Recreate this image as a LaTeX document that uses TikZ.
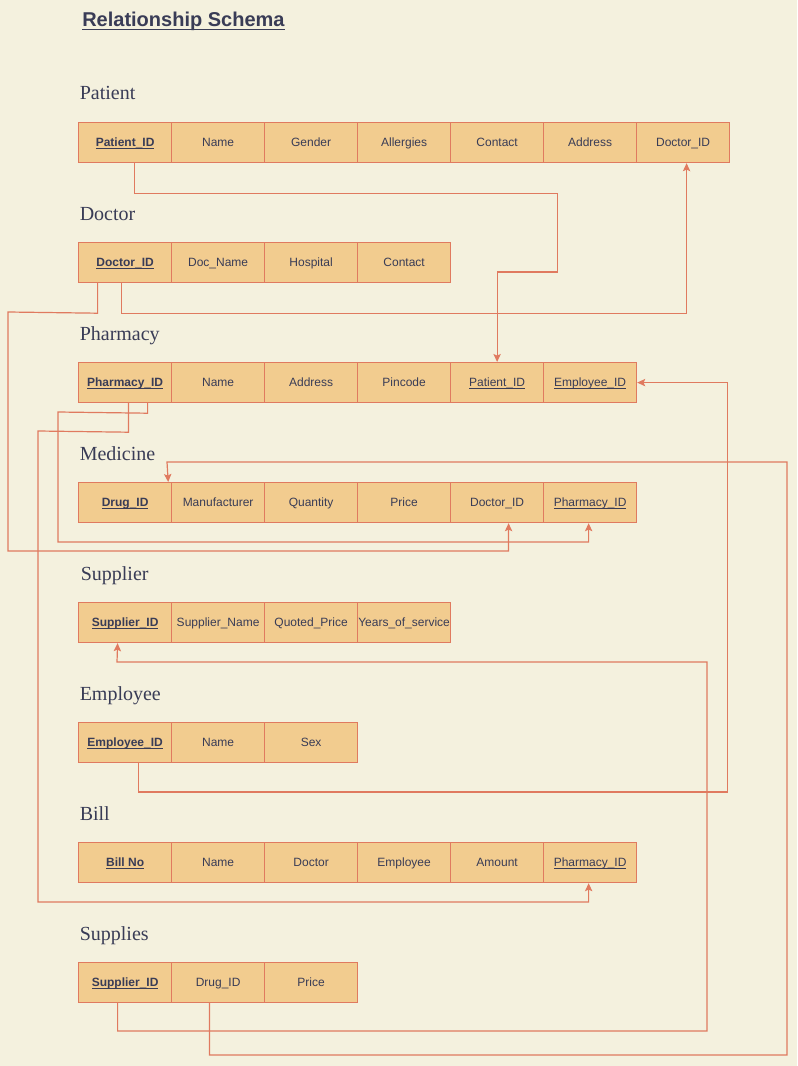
\documentclass[tikz,border=0pt]{standalone}
\usepackage{fontspec}
\setmainfont{Liberation Serif}
\setsansfont{Liberation Sans}
\usetikzlibrary{arrows.meta}

\definecolor{bg}{HTML}{F4F1DE}
\definecolor{cellfill}{HTML}{F2CC8F}
\definecolor{edge}{HTML}{E07A5F}
\definecolor{ink}{HTML}{393C56}

% underline set just below the baseline, crossing descenders
\newcommand{\lowline}[1]{\underline{\smash{#1}}}
% primary key and foreign key attribute styles
\newcommand{\keyattr}[1]{\lowline{\textbf{#1}}}
\newcommand{\fkattr}[1]{\lowline{#1}}

% one table row: prefix for node names, top edge, list of attributes
\newcommand{\schemarow}[3]{%
  \foreach \t [count=\i] in {#3} {%
    \node[cell] (#1\i) at ({78+93*(\i-1)},#2) {\t};
  }%
}

\tikzset{
  cell/.style={draw=edge, fill=cellfill, line width=0.9pt, anchor=north west,
    minimum width=69.75pt, minimum height=30pt, inner sep=0pt,
    text height=6.5pt, text depth=0.3pt,
    text=ink, font=\sffamily\fontsize{9}{11}\selectfont},
  tabletitle/.style={anchor=base west, inner sep=0pt, text=ink,
    font=\rmfamily\fontsize{15}{18}\selectfont},
  link/.style={draw=edge, line width=0.9pt,
    -{Stealth[length=6pt,width=5.5pt,inset=1.2pt]}},
}

\begin{document}
\begin{tikzpicture}[x=0.75pt, y=-0.75pt]
\useasboundingbox[fill=bg] (0,0) rectangle (797,1066);

\node[anchor=base west, inner sep=0pt, text=ink,
  font=\sffamily\bfseries\fontsize{15}{18}\selectfont] (heading) at (82,27)
  {\lowline{Relationship Schema}};

% table titles
\node[tabletitle] (tPatient)  at (79.5,100) {Patient};
\node[tabletitle] (tDoctor)   at (79.5,220) {Doctor};
\node[tabletitle] (tPharmacy) at (79.5,340) {Pharmacy};
\node[tabletitle] (tMedicine) at (79.5,460) {Medicine};
\node[tabletitle] (tSupplier) at (80.5,580) {Supplier};
\node[tabletitle] (tEmployee) at (79.5,700) {Employee};
\node[tabletitle] (tBill)     at (79.5,820) {Bill};
\node[tabletitle] (tSupplies) at (79.5,940) {Supplies};

% tables
\schemarow{pat}{122}{\keyattr{Patient\_ID},Name,Gender,Allergies,Contact,Address,Doctor\_ID}
\schemarow{doc}{242}{\keyattr{Doctor\_ID},Doc\_Name,Hospital,Contact}
\schemarow{pha}{362}{\keyattr{Pharmacy\_ID},Name,Address,Pincode,\fkattr{Patient\_ID},\fkattr{Employee\_ID}}
\schemarow{med}{482}{\keyattr{Drug\_ID},Manufacturer,Quantity,Price,Doctor\_ID,\fkattr{Pharmacy\_ID}}
\schemarow{sup}{602}{\keyattr{Supplier\_ID},Supplier\_Name,Quoted\_Price,Years\_of\_service}
\schemarow{emp}{722}{\keyattr{Employee\_ID},Name,Sex}
\schemarow{bil}{842}{\keyattr{Bill No},Name,Doctor,Employee,Amount,\fkattr{Pharmacy\_ID}}
\schemarow{sps}{962}{\keyattr{Supplier\_ID},Drug\_ID,Price}

% foreign key connectors
\draw[link] ([xshift=7.1pt]pat1.south) -- ++(0,30) -| (557.5,272) -| (pha5.north);
\draw[link] ([xshift=-2.6pt]doc1.south) -- ++(0,30) -| ([xshift=2.6pt]pat7.south);
\draw[link] ([xshift=-20.6pt]doc1.south) -- ++(0,30) -- (8,312) -- (8,551)
  -| ([xshift=8.6pt]med5.south);
\draw[link] ([xshift=16.9pt]pha1.south) -- ++(0,10) -- (58,412) -- (58,542)
  -| ([xshift=-1.1pt]med6.south);
\draw[link] ([xshift=2.6pt]pha1.south) -- ++(0,29) -- (38,431) -- (38,902)
  -| ([xshift=-1.1pt]bil6.south);
\draw[link] ([xshift=10.1pt]emp1.south) |- (727.5,792) |- (pha6.east);
\draw[link] ([xshift=-5.6pt]sps1.south) |- (707,1031) |- (117,662)
  -- ([xshift=-5.6pt]sup1.south);
\draw[link] ([xshift=-6.4pt]sps2.south) |- (787,1055) |- (167,462)
  -- ([xshift=-3pt]med1.north east);
\end{tikzpicture}
\end{document}
